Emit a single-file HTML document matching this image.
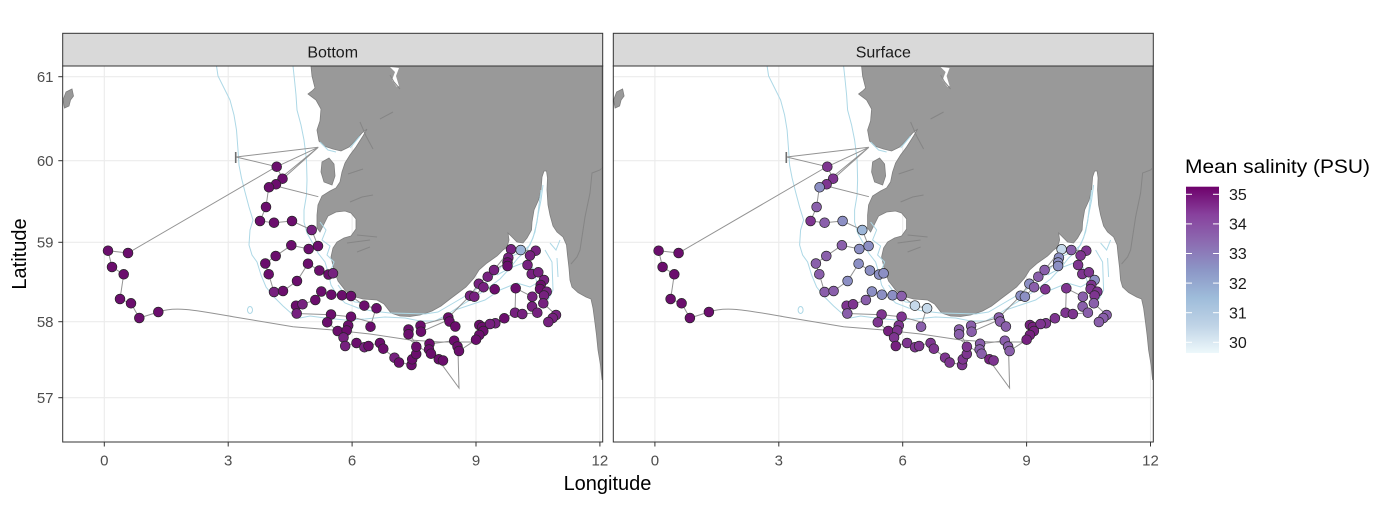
<!DOCTYPE html>
<html><head><meta charset="utf-8"><style>
html,body{margin:0;padding:0;background:#fff;}
svg{display:block;font-family:"Liberation Sans",Arial,sans-serif;}
.D{fill:#6b0e6d}.E{fill:#76217f}.P{fill:#7e3590}.M{fill:#8a5fab}.L{fill:#8c8fc4}.B{fill:#9db6d8}.W{fill:#c6d9ea}
.pts circle{stroke:#262626;stroke-width:0.7;}
.tk{font-size:15px;fill:#4d4d4d;}
</style></head><body>
<svg width="1387" height="523" viewBox="0 0 1387 523" xmlns="http://www.w3.org/2000/svg">
<defs>
<clipPath id="c1"><rect x="62.7" y="66" width="540" height="376"/></clipPath>
<clipPath id="c2"><rect x="613.3" y="66" width="540" height="376"/></clipPath>
<linearGradient id="lg" x1="0" y1="0" x2="0" y2="1">
<stop offset="0" stop-color="#6e016b"/><stop offset="0.167" stop-color="#88419d"/><stop offset="0.333" stop-color="#8c6bb1"/><stop offset="0.5" stop-color="#8c96c6"/><stop offset="0.667" stop-color="#9ebcda"/><stop offset="0.833" stop-color="#bfd3e6"/><stop offset="1" stop-color="#edf8fb"/>
</linearGradient>
<g id="base">
<rect x="62.7" y="66" width="540" height="376" fill="#fff"/>
<g stroke="#ebebeb" stroke-width="1.1">
<line x1="104.3" y1="66" x2="104.3" y2="442"/><line x1="228.2" y1="66" x2="228.2" y2="442"/><line x1="352.1" y1="66" x2="352.1" y2="442"/><line x1="476" y1="66" x2="476" y2="442"/><line x1="599.9" y1="66" x2="599.9" y2="442"/>
<line x1="62.7" y1="76.7" x2="602.7" y2="76.7"/><line x1="62.7" y1="160.7" x2="602.7" y2="160.7"/><line x1="62.7" y1="242.3" x2="602.7" y2="242.3"/><line x1="62.7" y1="321.7" x2="602.7" y2="321.7"/><line x1="62.7" y1="397.7" x2="602.7" y2="397.7"/>
</g>
<path d="M311,66 L602,66 L602,380 L600.5,365 L598,350 L596.5,335 L595,323 L593,308 L591,299 L586,297 L578,292.5 L572,287 L570,280 L569,268 L567.5,255 L566.5,245 L563,237 L557,232 L553,226 L550,215 L548,205 L547,190 L547.5,178 L546.5,171 L544,171 L542,177 L541,190 L538.5,200 L534,210 L532,222 L531.5,230 L527,238 L523,243 L517,242 L511,236 L508,233 L509,240 L507,247 L503,250 L497,256 L487,263 L479,270 L474,278 L466,287 L458,293 L450,299 L441,306 L432,311 L425,313.5 L420,315 L410,316.5 L400,316 L391,313 L384,304 L377,300 L363,299 L352,296 L345,290 L338,281 L334,270 L331,257 L333,248 L337,242 L344,238 L351,236 L356,229 L356,219 L351,213 L345,211 L336,212 L328,216 L324,224 L320,232 L317,228 L317,215 L318,205 L322,196 L330,191 L336,188 L340,182 L342,172 L345,163 L350,155 L356,147 L363,136 L367,129 L362,133 L356,140 L349,147 L341,151 L333,149 L324,146 L319,141 L317,130 L320,121 L321,109 L316,100 L308,94 L312,91 L315,88 L312,76 Z" fill="#999999" stroke="#7f7f7f" stroke-width="0.8"/>
<path d="M322,162 L329,158 L334,164 L335,176 L332,185 L324,182 L321,172 Z" fill="#999999" stroke="#7f7f7f" stroke-width="0.8"/>
<path d="M66,92 L72,89 L73.5,96 L70.5,100 L69,106 L64.5,108 L63,100 Z" fill="#999999" stroke="#7f7f7f" stroke-width="0.8"/>
<path d="M390,67 L395,72 L392,80 L397,87 L399,86 L396,76 L399,68 Z" fill="#fff"/>
<g stroke="#858585" stroke-width="1" fill="none">
<path d="M390,75 L394,82 L400,89"/><path d="M360,122 L366,136 L373,149"/><path d="M380,119 L393,112"/><path d="M348,174 L363,169"/><path d="M350,202 L362,197 L373,195"/><path d="M357,235 L377,237"/><path d="M347,243 L370,240"/><path d="M357,252 L370,247"/>
<path d="M604,166 L600,170 L592,173 L590,193 L585,217 L580,250 L577,257 L571,264"/>
</g>
<g stroke="#add8e6" stroke-width="1" fill="none">
<path d="M216.5,66 L218,76 L224,88 L230,100 L234,115 L236.5,130 L238,150 L239,165 L241.5,178 L245,192 L249,207 L253,220 L250,230 L249,245 L252,255 L257,262 L261,275 L266,287 L274,297 L283,306 L292,314 L300,318 L310,316 L325,318 L345,320 L365,319 L385,317 L405,318 L420,321 L435,321 L445,316 L460,306 L475,297 L488,288 L500,279 L510,268 L518,258 L527,250 L533,238 L537,222 L539,205 L541,190"/>
<path d="M293,66 L294.5,80 L296,95 L297,110 L301,125 L304,140 L306.5,160 L307,180 L306.5,195 L304,210 L304,222 L307,233 L312,242 L318,253 L325,262 L328,272 L331,285 L337,295 L345,303 L358,308 L372,311 L390,313 L410,313.5 L425,314 L438,312 L450,305 L462,298 L475,290 L487,282 L497,272 L505,262 L512,256 L522,252 L530,245 L535,232 L538,215 L541,200 L543,185"/>
<path d="M497,275 L510,268 L523,263 L533,268 L537,283 L530,287 L517,283 L500,290 L485,300 L470,305 L455,310"/>
<path d="M550,243 L556,250 L560,240 M557,258 L558,277 M545,250 L552,262 L553,290 L548,300"/>
<path d="M320,222 L326,230 L322,240 L330,246 L327,255 L334,262 L331,270 M338,285 L346,296 L355,302 L365,303"/>
<path d="M320,142 L328,150 L336,152 M350,148 L360,136"/>
<ellipse cx="250" cy="310" rx="2.5" ry="3.5"/>
</g>
<g stroke="#939393" stroke-width="1" fill="none">
<path d="M158.3,312 C175,306 195,310 233,316.7 L293,326.7 L333,330 L370,334 L410,340 L440,342 L472,342"/>
<path d="M410,340 L440,362 L459,388 L458,351"/>
<path d="M158.3,312 L139.3,318 L131,303.3 L120,299 L123.7,274.3 L112,267 L108,250.7 L128,253 L274,168"/>
<path d="M236,157 L318.3,147.3 M236,157 L276.7,166.7 M318.3,147.3 L276.7,166.7 M318.3,147.3 L282.7,179 M318.3,147.3 L271,186 M276,186 L318.3,196.7"/>
<path d="M276.7,166.7 L282.7,179 L276,184.3 L268.7,187.3 L266,207 L260,221 L274,222.7 L292,221 L311.7,230 L318,246 L308.7,249 L291.3,245.3 L275.7,256 L265.3,263.5 L268.7,274.2 L274,292 L283,291 L297,281 L308,263.7 L319.3,270.5 L328.5,274.5 L333,273.3"/>
<path d="M321.3,291.5 L315.3,300 L302.5,304.3 L296,305.7 L296.7,313.5 L330.8,314.7 L351,316.7 L370,322"/>
<path d="M331.3,294.7 L342,295.3 L351,296 L364.3,305.7 L376,308.3 L370.3,326.7"/>
<path d="M327,322 L337.7,331 L343.3,337.3 L345.4,346 L356,342.7 L364.4,346.7 L380,342.7 L383.4,349 L395,358 L399.4,362.3 L411.4,365 L412,359.3 L416.4,353.3 L416.7,346.7 L408,330"/>
<path d="M348.7,325 L351,316.7 M321.3,291.5 L331.3,294.7"/>
<path d="M420,325 L448.3,317.5 L470,295.7 L478.3,284.3 L494,270 L510.7,249.3 L520.7,250 L535.7,250.7 L530,255.3 L527.3,265 L531.7,274 L538.3,272.3 L544,280 L540.7,285 L546.7,291.7 L544,295 L543.3,303.3 L556,315 L548.3,322"/>
<path d="M532.3,296.7 L515.7,288.3 L515,312.7 L504.3,318.3 L495.3,323.3 L479.3,325 L483.3,331 L476,339.7 L459,351 L457.3,346.5 L454,340.7 L429,344 L427.7,354 L438.5,359.3 L442.7,360.3"/>
<path d="M494.7,289.3 L483.3,287 L474.3,296.7 M455.5,326.5 L449.5,320.7 M421.5,331.7 L448,320 M507.3,262.7 L494,270 M532,306 L537.3,312.7 L522.3,314"/>
</g>
<path d="M235.7,152 L235.7,163" stroke="#6f6f6f" stroke-width="1.6"/>
</g>
</defs>

<!-- strips -->
<rect x="62.7" y="33.3" width="540" height="32.7" fill="#d9d9d9" stroke="#333" stroke-width="1"/>
<rect x="613.3" y="33.3" width="540" height="32.7" fill="#d9d9d9" stroke="#333" stroke-width="1"/>
<text x="332.7" y="57.3" font-size="16" fill="#1a1a1a" text-anchor="middle">Bottom</text>
<text x="883.3" y="57.3" font-size="16" fill="#1a1a1a" text-anchor="middle">Surface</text>

<!-- left panel -->
<g clip-path="url(#c1)">
<use href="#base"/>
<g class="pts">
<circle cx="108" cy="250.7" r="4.9" class="D"/><circle cx="128" cy="253" r="4.9" class="D"/><circle cx="112" cy="267" r="4.9" class="D"/><circle cx="123.7" cy="274.3" r="4.9" class="D"/><circle cx="120" cy="299" r="4.9" class="D"/><circle cx="131" cy="303.3" r="4.9" class="D"/><circle cx="139.3" cy="318" r="4.9" class="D"/><circle cx="158.3" cy="312" r="4.9" class="D"/>
<circle cx="276.7" cy="166.7" r="4.9" class="D"/><circle cx="282.5" cy="178.7" r="4.9" class="D"/><circle cx="276" cy="184.3" r="4.9" class="D"/><circle cx="269" cy="187.3" r="4.9" class="D"/><circle cx="266" cy="207" r="4.9" class="D"/><circle cx="260" cy="221" r="4.9" class="D"/><circle cx="274" cy="222.7" r="4.9" class="D"/><circle cx="292" cy="221" r="4.9" class="D"/><circle cx="311.7" cy="230" r="4.9" class="E"/><circle cx="291.3" cy="245.3" r="4.9" class="D"/><circle cx="308.7" cy="249" r="4.9" class="D"/><circle cx="318" cy="246" r="4.9" class="D"/><circle cx="275.7" cy="256" r="4.9" class="D"/><circle cx="265.3" cy="263.5" r="4.9" class="D"/><circle cx="308" cy="263.7" r="4.9" class="D"/><circle cx="319.3" cy="270.5" r="4.9" class="D"/><circle cx="328.5" cy="274.5" r="4.9" class="D"/><circle cx="333" cy="273.3" r="4.9" class="E"/><circle cx="268.7" cy="274.2" r="4.9" class="D"/><circle cx="297" cy="281" r="4.9" class="D"/><circle cx="274" cy="292" r="4.9" class="E"/><circle cx="283" cy="291" r="4.9" class="D"/><circle cx="321.3" cy="291.5" r="4.9" class="D"/><circle cx="315.3" cy="300" r="4.9" class="D"/><circle cx="331.3" cy="294.7" r="4.9" class="D"/><circle cx="342" cy="295.3" r="4.9" class="D"/><circle cx="351" cy="296" r="4.9" class="D"/><circle cx="296" cy="305.7" r="4.9" class="D"/><circle cx="302.5" cy="304.3" r="4.9" class="E"/><circle cx="296.7" cy="313.5" r="4.9" class="E"/><circle cx="331" cy="314.5" r="4.9" class="D"/><circle cx="351" cy="316.7" r="4.9" class="D"/><circle cx="327.2" cy="322.3" r="4.9" class="D"/><circle cx="348.2" cy="325.5" r="4.9" class="D"/><circle cx="337.7" cy="331" r="4.9" class="D"/><circle cx="346.7" cy="330.5" r="4.9" class="D"/><circle cx="343.5" cy="337.5" r="4.9" class="E"/><circle cx="345.2" cy="346" r="4.9" class="E"/><circle cx="356.5" cy="343" r="4.9" class="D"/><circle cx="364.4" cy="347.2" r="4.9" class="E"/><circle cx="368.5" cy="346" r="4.9" class="D"/><circle cx="380" cy="343" r="4.9" class="D"/><circle cx="383.3" cy="348.7" r="4.9" class="D"/><circle cx="394.5" cy="357.7" r="4.9" class="E"/><circle cx="399" cy="362.5" r="4.9" class="D"/><circle cx="411.5" cy="365" r="4.9" class="D"/><circle cx="412.2" cy="359.3" r="4.9" class="D"/><circle cx="416.2" cy="354" r="4.9" class="D"/><circle cx="416.3" cy="346.7" r="4.9" class="D"/><circle cx="408.5" cy="329.5" r="4.9" class="D"/><circle cx="408.5" cy="334.3" r="4.9" class="D"/><circle cx="420.5" cy="325.7" r="4.9" class="D"/><circle cx="421" cy="331.7" r="4.9" class="D"/><circle cx="370.5" cy="326.7" r="4.9" class="D"/><circle cx="364.3" cy="305.6" r="4.9" class="D"/><circle cx="376.5" cy="308.3" r="4.9" class="D"/>
<circle cx="448.3" cy="317.5" r="4.9" class="D"/><circle cx="449.5" cy="321.5" r="4.9" class="D"/><circle cx="455.3" cy="326.5" r="4.9" class="D"/><circle cx="454.2" cy="340.7" r="4.9" class="D"/><circle cx="457.5" cy="346.5" r="4.9" class="D"/><circle cx="459" cy="351" r="4.9" class="D"/><circle cx="429.5" cy="343.8" r="4.9" class="D"/><circle cx="429" cy="349.5" r="4.9" class="D"/><circle cx="431" cy="353.7" r="4.9" class="D"/><circle cx="438.8" cy="359.3" r="4.9" class="D"/><circle cx="443" cy="360.5" r="4.9" class="D"/><circle cx="470" cy="295.7" r="4.9" class="E"/><circle cx="474.3" cy="296.7" r="4.9" class="E"/><circle cx="478.8" cy="283.8" r="4.9" class="E"/><circle cx="483.5" cy="287.2" r="4.9" class="E"/><circle cx="487.7" cy="276.7" r="4.9" class="E"/><circle cx="494" cy="270" r="4.9" class="E"/><circle cx="494.7" cy="289.3" r="4.9" class="D"/><circle cx="511" cy="249.3" r="4.9" class="E"/><circle cx="520.7" cy="250" r="4.9" class="B"/><circle cx="535.7" cy="250.7" r="4.9" class="E"/><circle cx="530" cy="255.5" r="4.9" class="E"/><circle cx="508.3" cy="257.7" r="4.9" class="E"/><circle cx="507.5" cy="262.5" r="4.9" class="D"/><circle cx="507.5" cy="266" r="4.9" class="D"/><circle cx="527.5" cy="265" r="4.9" class="E"/><circle cx="531.7" cy="274" r="4.9" class="E"/><circle cx="538.3" cy="272.3" r="4.9" class="E"/><circle cx="544" cy="280" r="4.9" class="E"/><circle cx="515.7" cy="288.3" r="4.9" class="D"/><circle cx="540.7" cy="285" r="4.9" class="D"/><circle cx="540" cy="289" r="4.9" class="D"/><circle cx="546.7" cy="291.7" r="4.9" class="E"/><circle cx="544" cy="295.5" r="4.9" class="E"/><circle cx="532.3" cy="296.7" r="4.9" class="E"/><circle cx="543.3" cy="303.3" r="4.9" class="E"/><circle cx="532" cy="306.5" r="4.9" class="E"/><circle cx="537.3" cy="312.7" r="4.9" class="E"/><circle cx="515" cy="312.7" r="4.9" class="E"/><circle cx="522.3" cy="314" r="4.9" class="E"/><circle cx="504.3" cy="318.3" r="4.9" class="D"/><circle cx="495.3" cy="323.3" r="4.9" class="E"/><circle cx="556" cy="315" r="4.9" class="E"/><circle cx="552.7" cy="318" r="4.9" class="E"/><circle cx="548.3" cy="322" r="4.9" class="E"/><circle cx="479.3" cy="325" r="4.9" class="D"/><circle cx="482.3" cy="327" r="4.9" class="D"/><circle cx="490" cy="324" r="4.9" class="E"/><circle cx="483.3" cy="331" r="4.9" class="D"/><circle cx="479.3" cy="335" r="4.9" class="D"/><circle cx="476" cy="339.7" r="4.9" class="D"/>
</g>
</g>

<!-- right panel -->
<g clip-path="url(#c2)">
<g transform="translate(550.6,0)">
<use href="#base"/>
<g class="pts">
<circle cx="108" cy="250.7" r="4.9" class="D"/><circle cx="128" cy="253" r="4.9" class="D"/><circle cx="112" cy="267" r="4.9" class="D"/><circle cx="123.7" cy="274.3" r="4.9" class="D"/><circle cx="120" cy="299" r="4.9" class="D"/><circle cx="131" cy="303.3" r="4.9" class="D"/><circle cx="139.3" cy="318" r="4.9" class="D"/><circle cx="158.3" cy="312" r="4.9" class="D"/>
<circle cx="276.7" cy="166.7" r="4.9" class="P"/><circle cx="282.5" cy="178.7" r="4.9" class="P"/><circle cx="276" cy="184.3" r="4.9" class="P"/><circle cx="269" cy="187.3" r="4.9" class="L"/><circle cx="266" cy="207" r="4.9" class="M"/><circle cx="260" cy="221" r="4.9" class="P"/><circle cx="274" cy="222.7" r="4.9" class="M"/><circle cx="292" cy="221" r="4.9" class="L"/><circle cx="311.7" cy="230" r="4.9" class="B"/><circle cx="291.3" cy="245.3" r="4.9" class="M"/><circle cx="308.7" cy="249" r="4.9" class="L"/><circle cx="318" cy="246" r="4.9" class="L"/><circle cx="275.7" cy="256" r="4.9" class="M"/><circle cx="265.3" cy="263.5" r="4.9" class="M"/><circle cx="308" cy="263.7" r="4.9" class="L"/><circle cx="319.3" cy="270.5" r="4.9" class="L"/><circle cx="328.5" cy="274.5" r="4.9" class="L"/><circle cx="333" cy="273.3" r="4.9" class="L"/><circle cx="268.7" cy="274.2" r="4.9" class="M"/><circle cx="297" cy="281" r="4.9" class="L"/><circle cx="274" cy="292" r="4.9" class="M"/><circle cx="283" cy="291" r="4.9" class="M"/><circle cx="321.3" cy="291.5" r="4.9" class="L"/><circle cx="315.3" cy="300" r="4.9" class="M"/><circle cx="331.3" cy="294.7" r="4.9" class="L"/><circle cx="342" cy="295.3" r="4.9" class="L"/><circle cx="351" cy="296" r="4.9" class="M"/><circle cx="296" cy="305.7" r="4.9" class="P"/><circle cx="302.5" cy="304.3" r="4.9" class="P"/><circle cx="296.7" cy="313.5" r="4.9" class="M"/><circle cx="331" cy="314.5" r="4.9" class="P"/><circle cx="351" cy="316.7" r="4.9" class="P"/><circle cx="327.2" cy="322.3" r="4.9" class="P"/><circle cx="348.2" cy="325.5" r="4.9" class="P"/><circle cx="337.7" cy="331" r="4.9" class="E"/><circle cx="346.7" cy="330.5" r="4.9" class="P"/><circle cx="343.5" cy="337.5" r="4.9" class="P"/><circle cx="345.2" cy="346" r="4.9" class="E"/><circle cx="356.5" cy="343" r="4.9" class="P"/><circle cx="364.4" cy="347.2" r="4.9" class="P"/><circle cx="368.5" cy="346" r="4.9" class="P"/><circle cx="380" cy="343" r="4.9" class="P"/><circle cx="383.3" cy="348.7" r="4.9" class="P"/><circle cx="394.5" cy="357.7" r="4.9" class="P"/><circle cx="399" cy="362.5" r="4.9" class="P"/><circle cx="411.5" cy="365" r="4.9" class="P"/><circle cx="412.2" cy="359.3" r="4.9" class="P"/><circle cx="416.2" cy="354" r="4.9" class="P"/><circle cx="416.3" cy="346.7" r="4.9" class="P"/><circle cx="408.5" cy="329.5" r="4.9" class="M"/><circle cx="408.5" cy="334.3" r="4.9" class="M"/><circle cx="420.5" cy="325.7" r="4.9" class="M"/><circle cx="421" cy="331.7" r="4.9" class="M"/><circle cx="370.5" cy="326.7" r="4.9" class="M"/><circle cx="364.3" cy="305.6" r="4.9" class="W"/><circle cx="376.5" cy="308.3" r="4.9" class="W"/>
<circle cx="448.3" cy="317.5" r="4.9" class="M"/><circle cx="449.5" cy="321.5" r="4.9" class="M"/><circle cx="455.3" cy="326.5" r="4.9" class="M"/><circle cx="454.2" cy="340.7" r="4.9" class="M"/><circle cx="457.5" cy="346.5" r="4.9" class="M"/><circle cx="459" cy="351" r="4.9" class="M"/><circle cx="429.5" cy="343.8" r="4.9" class="M"/><circle cx="429" cy="349.5" r="4.9" class="M"/><circle cx="431" cy="353.7" r="4.9" class="M"/><circle cx="438.8" cy="359.3" r="4.9" class="E"/><circle cx="443" cy="360.5" r="4.9" class="P"/><circle cx="470" cy="295.7" r="4.9" class="L"/><circle cx="474.3" cy="296.7" r="4.9" class="L"/><circle cx="478.8" cy="283.8" r="4.9" class="L"/><circle cx="483.5" cy="287.2" r="4.9" class="M"/><circle cx="487.7" cy="276.7" r="4.9" class="M"/><circle cx="494" cy="270" r="4.9" class="M"/><circle cx="494.7" cy="289.3" r="4.9" class="P"/><circle cx="511" cy="249.3" r="4.9" class="W"/><circle cx="520.7" cy="250" r="4.9" class="M"/><circle cx="535.7" cy="250.7" r="4.9" class="P"/><circle cx="530" cy="255.5" r="4.9" class="P"/><circle cx="508.3" cy="257.7" r="4.9" class="L"/><circle cx="507.5" cy="262.5" r="4.9" class="L"/><circle cx="507.5" cy="266" r="4.9" class="L"/><circle cx="527.5" cy="265" r="4.9" class="P"/><circle cx="531.7" cy="274" r="4.9" class="P"/><circle cx="538.3" cy="272.3" r="4.9" class="P"/><circle cx="544" cy="280" r="4.9" class="L"/><circle cx="515.7" cy="288.3" r="4.9" class="P"/><circle cx="540.7" cy="285" r="4.9" class="P"/><circle cx="540" cy="289" r="4.9" class="P"/><circle cx="546.7" cy="291.7" r="4.9" class="P"/><circle cx="544" cy="295.5" r="4.9" class="P"/><circle cx="532.3" cy="296.7" r="4.9" class="M"/><circle cx="543.3" cy="303.3" r="4.9" class="M"/><circle cx="532" cy="306.5" r="4.9" class="M"/><circle cx="537.3" cy="312.7" r="4.9" class="M"/><circle cx="515" cy="312.7" r="4.9" class="P"/><circle cx="522.3" cy="314" r="4.9" class="P"/><circle cx="504.3" cy="318.3" r="4.9" class="P"/><circle cx="495.3" cy="323.3" r="4.9" class="P"/><circle cx="556" cy="315" r="4.9" class="M"/><circle cx="552.7" cy="318" r="4.9" class="M"/><circle cx="548.3" cy="322" r="4.9" class="M"/><circle cx="479.3" cy="325" r="4.9" class="E"/><circle cx="482.3" cy="327" r="4.9" class="E"/><circle cx="490" cy="324" r="4.9" class="P"/><circle cx="483.3" cy="331" r="4.9" class="E"/><circle cx="479.3" cy="335" r="4.9" class="E"/><circle cx="476" cy="339.7" r="4.9" class="E"/>
</g>
</g>
</g>

<!-- panel borders -->
<rect x="62.7" y="66" width="540" height="376" fill="none" stroke="#333" stroke-width="1"/>
<rect x="613.3" y="66" width="540" height="376" fill="none" stroke="#333" stroke-width="1"/>

<!-- axes ticks -->
<g stroke="#333" stroke-width="1">
<line x1="58.3" y1="76.7" x2="62.7" y2="76.7"/><line x1="58.3" y1="160.7" x2="62.7" y2="160.7"/><line x1="58.3" y1="242.3" x2="62.7" y2="242.3"/><line x1="58.3" y1="321.7" x2="62.7" y2="321.7"/><line x1="58.3" y1="397.7" x2="62.7" y2="397.7"/>
<line x1="104.3" y1="442" x2="104.3" y2="446.5"/><line x1="228.2" y1="442" x2="228.2" y2="446.5"/><line x1="352.1" y1="442" x2="352.1" y2="446.5"/><line x1="476" y1="442" x2="476" y2="446.5"/><line x1="599.9" y1="442" x2="599.9" y2="446.5"/>
<line x1="654.9" y1="442" x2="654.9" y2="446.5"/><line x1="778.8" y1="442" x2="778.8" y2="446.5"/><line x1="902.7" y1="442" x2="902.7" y2="446.5"/><line x1="1026.6" y1="442" x2="1026.6" y2="446.5"/><line x1="1150.5" y1="442" x2="1150.5" y2="446.5"/>
</g>
<g class="tk" text-anchor="end">
<text x="53.5" y="82.1">61</text><text x="53.5" y="166.1">60</text><text x="53.5" y="247.7">59</text><text x="53.5" y="327.1">58</text><text x="53.5" y="403.1">57</text>
</g>
<g class="tk" text-anchor="middle">
<text x="104.3" y="465.4">0</text><text x="228.2" y="465.4">3</text><text x="352.1" y="465.4">6</text><text x="476" y="465.4">9</text><text x="599.9" y="465.4">12</text>
<text x="654.9" y="465.4">0</text><text x="778.8" y="465.4">3</text><text x="902.7" y="465.4">6</text><text x="1026.6" y="465.4">9</text><text x="1150.5" y="465.4">12</text>
</g>
<text x="607.5" y="490" font-size="20" fill="#000" text-anchor="middle">Longitude</text>
<text transform="translate(26,254) rotate(-90)" font-size="20" fill="#000" text-anchor="middle">Latitude</text>

<!-- legend -->
<text x="1185" y="173" font-size="19.5" fill="#000" textLength="185" lengthAdjust="spacingAndGlyphs">Mean salinity (PSU)</text>
<rect x="1186" y="186.7" width="33" height="166.3" fill="url(#lg)"/>
<g stroke="#fff" stroke-width="1">
<line x1="1186" y1="194.3" x2="1192" y2="194.3"/><line x1="1213" y1="194.3" x2="1219" y2="194.3"/>
<line x1="1186" y1="223.9" x2="1192" y2="223.9"/><line x1="1213" y1="223.9" x2="1219" y2="223.9"/>
<line x1="1186" y1="253.5" x2="1192" y2="253.5"/><line x1="1213" y1="253.5" x2="1219" y2="253.5"/>
<line x1="1186" y1="283.1" x2="1192" y2="283.1"/><line x1="1213" y1="283.1" x2="1219" y2="283.1"/>
<line x1="1186" y1="312.7" x2="1192" y2="312.7"/><line x1="1213" y1="312.7" x2="1219" y2="312.7"/>
<line x1="1186" y1="342.3" x2="1192" y2="342.3"/><line x1="1213" y1="342.3" x2="1219" y2="342.3"/>
</g>
<g font-size="16" fill="#1a1a1a">
<text x="1229" y="200">35</text><text x="1229" y="229.6">34</text><text x="1229" y="259.2">33</text><text x="1229" y="288.8">32</text><text x="1229" y="318.4">31</text><text x="1229" y="348">30</text>
</g>
</svg>
</body></html>
